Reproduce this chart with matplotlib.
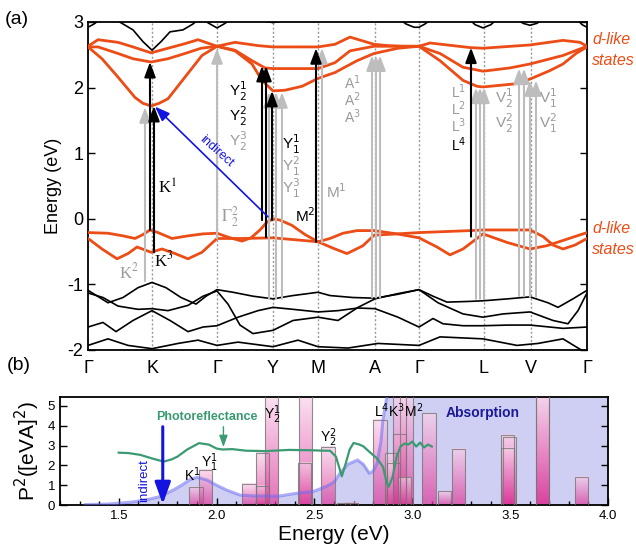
import numpy as np
import matplotlib
matplotlib.use('Agg')
import matplotlib.pyplot as plt
from matplotlib.colors import LinearSegmentedColormap
from matplotlib.patches import Rectangle
from matplotlib.ticker import MultipleLocator, FormatStrFormatter

plt.rcParams['font.family'] = ['Liberation Sans', 'DejaVu Sans']
plt.rcParams['mathtext.fontset'] = 'dejavusans'
plt.rcParams['axes.unicode_minus'] = False

# ---------------- panel (a): band structure ----------------
kpath_pos = [0, 64, 129, 185, 230, 287, 331, 396, 443, 499]
kpath_lbl = ['Γ', 'K', 'Γ', 'Y', 'M', 'A', 'Γ', 'L', 'V', 'Γ']

# d-like conduction bands (orange)
cb_top_k = [0, 10, 30, 45, 63, 80, 97, 110, 129, 147, 170, 185, 230, 247, 262, 286, 300, 315, 331, 342, 382, 395, 442, 475, 492, 499]
cb_top_e = [2.63, 2.73, 2.69, 2.62, 2.53, 2.60, 2.67, 2.73, 2.63, 2.69, 2.64, 2.62, 2.62, 2.66, 2.77, 2.66, 2.64, 2.63, 2.63, 2.68, 2.61, 2.60, 2.65, 2.72, 2.69, 2.63]
cb_mid_k = [0, 10, 30, 45, 63, 80, 97, 113, 129, 147, 164, 177, 185, 230, 247, 262, 286, 331, 352, 375, 395, 422, 442, 475, 499]
cb_mid_e = [2.62, 2.62, 2.52, 2.44, 2.39, 2.44, 2.52, 2.60, 2.63, 2.57, 2.41, 2.30, 2.29, 2.29, 2.38, 2.56, 2.63, 2.63, 2.52, 2.31, 2.25, 2.30, 2.36, 2.49, 2.63]
cb_low_k = [0, 14, 30, 47, 55, 63, 71, 80, 97, 114, 129, 147, 164, 174, 185, 197, 214, 230, 247, 269, 286, 310, 331, 352, 375, 389, 395, 429, 442, 462, 475, 488, 499]
cb_low_e = [2.62, 2.44, 2.16, 1.85, 1.76, 1.72, 1.76, 1.83, 2.16, 2.49, 2.63, 2.56, 2.36, 2.11, 1.95, 1.96, 2.02, 2.14, 2.23, 2.41, 2.52, 2.60, 2.63, 2.41, 2.11, 2.02, 2.01, 2.06, 2.13, 2.26, 2.36, 2.52, 2.62]

# d-like valence bands (orange)
vb_a_k = [0, 20, 35, 47, 55, 62, 70, 84, 100, 115, 129, 140, 154, 163, 172, 179, 185, 192, 204, 217, 230, 247, 259, 275, 286, 309, 331, 382, 395, 442, 455, 465, 475, 487, 499]
vb_a_e = [-0.21, -0.22, -0.26, -0.30, -0.24, -0.17, -0.21, -0.30, -0.26, -0.23, -0.22, -0.28, -0.34, -0.29, -0.17, -0.05, 0.0, -0.02, -0.10, -0.24, -0.35, -0.46, -0.53, -0.41, -0.25, -0.23, -0.21, -0.18, -0.17, -0.17, -0.27, -0.40, -0.46, -0.40, -0.30]
vb_b_k = [0, 14, 29, 40, 49, 63, 74, 87, 100, 114, 129, 154, 185, 230, 242, 255, 269, 286, 309, 331, 349, 362, 375, 395, 419, 442, 459, 475, 499]
vb_b_e = [-0.30, -0.46, -0.61, -0.53, -0.43, -0.51, -0.46, -0.53, -0.61, -0.51, -0.30, -0.30, -0.29, -0.35, -0.30, -0.22, -0.18, -0.18, -0.23, -0.29, -0.43, -0.55, -0.46, -0.23, -0.36, -0.46, -0.41, -0.33, -0.21]

# other bands (black)
tb_k = [0, 6, 14, 25, 35, 45, 55, 64, 73, 82, 95, 105, 112, 122, 129, 136, 145, 175, 185, 195, 310, 318, 326, 331, 337, 345, 380, 387, 395, 403, 410, 428, 435, 442, 449, 456, 488, 494, 499]
tb_e = [2.92, 2.97, 3.06, 3.06, 2.97, 2.88, 2.70, 2.57, 2.70, 2.85, 2.88, 2.97, 3.06, 2.97, 2.91, 2.97, 3.06, 3.02, 2.99, 3.02, 3.06, 2.97, 2.92, 2.92, 2.97, 3.06, 3.06, 2.96, 2.91, 2.96, 3.06, 3.06, 2.98, 2.95, 2.98, 3.06, 3.06, 2.96, 2.92]
lb1_k = [0, 20, 35, 50, 64, 78, 93, 108, 118, 129, 145, 165, 185, 205, 230, 242, 265, 287, 310, 331, 345, 359, 380, 395, 420, 442, 460, 470, 485, 499]
lb1_e = [-1.09, -1.28, -1.20, -1.05, -0.97, -1.05, -1.20, -1.30, -1.18, -1.08, -1.12, -1.18, -1.22, -1.17, -1.12, -1.17, -1.20, -1.21, -1.15, -1.08, -1.18, -1.27, -1.26, -1.25, -1.22, -1.19, -1.28, -1.35, -1.22, -1.09]
lb2_k = [0, 15, 30, 50, 64, 80, 100, 115, 129, 140, 152, 165, 185, 205, 230, 250, 270, 287, 310, 331, 350, 375, 395, 415, 442, 465, 480, 490, 499]
lb2_e = [-1.13, -1.20, -1.33, -1.38, -1.37, -1.40, -1.32, -1.18, -1.10, -1.30, -1.62, -1.75, -1.70, -1.55, -1.50, -1.55, -1.35, -1.22, -1.14, -1.08, -1.28, -1.45, -1.50, -1.45, -1.42, -1.55, -1.60, -1.40, -1.13]
lb3_k = [0, 15, 28, 45, 64, 82, 100, 115, 129, 150, 170, 185, 205, 230, 250, 270, 287, 310, 331, 345, 355, 375, 395, 420, 442, 475, 499]
lb3_e = [-1.65, -1.58, -1.72, -1.55, -1.40, -1.55, -1.72, -1.65, -1.63, -1.50, -1.40, -1.35, -1.38, -1.42, -1.40, -1.36, -1.37, -1.50, -1.65, -1.52, -1.60, -1.63, -1.63, -1.62, -1.62, -1.67, -1.65]
lb4_k = [0, 20, 40, 64, 90, 110, 129, 150, 185, 210, 230, 260, 290, 331, 352, 395, 429, 450, 475, 490, 499]
lb4_e = [-1.93, -1.83, -1.93, -1.98, -1.90, -1.85, -1.93, -1.88, -1.95, -1.85, -1.95, -1.97, -1.90, -1.93, -1.80, -1.83, -1.93, -1.90, -1.83, -1.97, -2.05]

# optical transitions: (k, E_start, E_end)
black_arrows = [(62, -0.17, 2.39), (66, -0.51, 1.72), (174, -0.02, 2.33), (178, -0.28, 2.33),
                (184, -0.02, 1.95), (228, -0.35, 2.60), (383, -0.27, 2.61)]
grey_arrows = [(57, -0.95, 1.70), (129, -0.30, 2.60), (181, -1.22, 1.93), (188, -1.22, 1.93),
               (194, -1.22, 1.93), (234, -0.36, 2.60), (284, -1.20, 2.49), (288, -1.20, 2.49),
               (292, -1.20, 2.49), (388, -1.22, 2.00), (392, -1.22, 2.00), (396, -1.22, 2.00),
               (431, -1.18, 2.29), (436, -1.18, 2.29), (442, -1.19, 2.11), (448, -1.19, 2.11)]
indirect_start = (180, 0.03)
indirect_end = (67, 1.71)

# transition labels: (text, k, E, colour, serif, fontsize)
a_labels = [
    ('K$^1$', 79, 0.47, 'k', True, 12), ('K$^2$', 41, -0.82, 'grey', True, 12), ('K$^3$', 76, -0.63, 'k', True, 12),
    ('$\\Gamma_2^2$', 142, 0.03, 'grey', True, 12),
    ('Y$_2^1$', 150, 1.94, 'k', False, 11), ('Y$_2^2$', 150, 1.56, 'k', False, 11), ('Y$_2^3$', 150, 1.18, 'grey', False, 11),
    ('Y$_1^1$', 203, 1.13, 'k', False, 11), ('Y$_1^2$', 203, 0.80, 'grey', False, 11), ('Y$_1^3$', 203, 0.47, 'grey', False, 11),
    ('M$^1$', 248, 0.41, 'grey', False, 11), ('M$^2$', 217, 0.05, 'k', False, 11),
    ('A$^1$', 264, 2.08, 'grey', False, 10), ('A$^2$', 264, 1.82, 'grey', False, 10), ('A$^3$', 264, 1.56, 'grey', False, 10),
    ('L$^1$', 371, 1.94, 'grey', False, 10), ('L$^2$', 371, 1.68, 'grey', False, 10), ('L$^3$', 371, 1.42, 'grey', False, 10),
    ('L$^4$', 371, 1.13, 'k', False, 10),
    ('V$_2^1$', 416, 1.84, 'grey', False, 11), ('V$_2^2$', 416, 1.46, 'grey', False, 11),
    ('V$_1^1$', 460, 1.84, 'grey', False, 11), ('V$_1^2$', 460, 1.46, 'grey', False, 11),
]

# ---------------- panel (b): spectra ----------------
pr_e = [1.50, 1.55, 1.61, 1.67, 1.73, 1.77, 1.80, 1.85, 1.91, 1.96, 2.00, 2.03, 2.08, 2.15, 2.25, 2.37, 2.49, 2.55, 2.58, 2.61, 2.64, 2.66, 2.68, 2.70, 2.73, 2.75, 2.78, 2.82, 2.85, 2.87, 2.88, 2.90, 2.92, 2.94, 2.96, 2.98, 3.00, 3.02, 3.04, 3.06, 3.08, 3.10]
pr_p = [2.64, 2.62, 2.53, 2.35, 2.19, 2.30, 2.44, 2.80, 3.12, 3.05, 2.85, 2.80, 2.82, 2.74, 2.72, 2.78, 2.76, 2.74, 2.74, 2.44, 1.45, 2.10, 2.80, 3.13, 3.05, 2.96, 2.69, 2.35, 1.93, 1.10, 0.93, 1.43, 2.44, 2.95, 3.10, 3.05, 3.20, 2.95, 3.15, 2.90, 3.05, 2.95]
abs_e = [1.33, 1.45, 1.57, 1.65, 1.71, 1.78, 1.83, 1.86, 1.90, 1.95, 2.00, 2.05, 2.12, 2.20, 2.32, 2.40, 2.49, 2.56, 2.60, 2.63, 2.67, 2.72, 2.75, 2.78, 2.80, 2.82, 2.84, 2.85, 2.87, 2.89, 4.00]
abs_p = [0.02, 0.05, 0.15, 0.28, 0.42, 0.76, 1.05, 1.26, 1.40, 1.26, 1.00, 0.76, 0.50, 0.45, 0.45, 0.58, 0.67, 0.93, 1.15, 1.60, 2.05, 2.27, 2.05, 1.60, 1.70, 2.10, 3.20, 4.30, 5.45, 8.0, 8.0]
bar_e = [1.895, 1.945, 2.165, 2.235, 2.235, 2.28, 2.455, 2.45, 2.57, 2.65, 2.69, 2.835, 2.895, 2.905, 2.935, 2.935, 2.97, 2.96, 3.085, 3.165, 3.235, 3.485, 3.495, 3.485, 3.665, 3.665, 3.865]
bar_h = [0.93, 1.77, 1.06, 2.64, 0.96, 6.0, 6.0, 2.12, 2.95, 0.10, 0.12, 4.30, 2.60, 2.14, 3.60, 6.0, 6.0, 1.40, 4.64, 0.70, 2.83, 3.54, 3.45, 2.88, 6.0, 6.0, 1.43]
BAR_W = 0.068
b_labels = [('K$^1$', 1.875, 1.55), ('Y$_1^1$', 1.965, 2.15), ('Y$_2^1$', 2.285, 4.55),
            ('Y$_2^2$', 2.57, 3.40), ('L$^4$K$^3$M$^2$', 2.93, 4.78)]

ORANGE = '#ec4d16'
GREY = '#bdbdbd'
GREYTXT = '#9a9a9a'
GREEN = '#3a9a72'
BLUE = '#1414e0'

fig = plt.figure(figsize=(6.36, 5.48), dpi=100)
axA = fig.add_axes([88/636, 1-350/548, 499/636, 328/548])
axB = fig.add_axes([60/636, 1-505/548, 548/636, 108/548])

# ---- draw (a)
for kp in kpath_pos[1:-1]:
    axA.axvline(kp, color='#999999', ls=(0, (1.5, 1.5)), lw=1.0, zorder=1)
for k, e in [(tb_k, tb_e), (lb1_k, lb1_e), (lb2_k, lb2_e), (lb3_k, lb3_e), (lb4_k, lb4_e)]:
    axA.plot(k, e, color='k', lw=1.2, zorder=2)
for k, e in [(cb_top_k, cb_top_e), (cb_mid_k, cb_mid_e), (cb_low_k, cb_low_e),
             (vb_a_k, vb_a_e), (vb_b_k, vb_b_e)]:
    axA.plot(k, e, color=ORANGE, lw=2.0, zorder=3)

def varrow(ax, k, e0, e1, col, z):
    ax.annotate('', xy=(k, e1), xytext=(k, e0),
                arrowprops=dict(arrowstyle='-|>,head_length=0.75,head_width=0.28', color=col,
                                lw=1.5, shrinkA=0, shrinkB=0, mutation_scale=12), zorder=z)

for k, e0, e1 in grey_arrows:
    varrow(axA, k, e0, e1, GREY, 4)
for k, e0, e1 in black_arrows:
    varrow(axA, k, e0, e1, 'k', 5)
axA.annotate('', xy=indirect_end, xytext=indirect_start,
             arrowprops=dict(arrowstyle='-|>,head_length=0.75,head_width=0.28', color=BLUE,
                             lw=1.2, shrinkA=0, shrinkB=0, mutation_scale=12), zorder=6)
axA.text(128, 1.02, 'indirect', color=BLUE, fontsize=9, rotation=-42,
         ha='center', va='center', rotation_mode='anchor', zorder=6)

for txt, k, e, col, serif, fs in a_labels:
    c = GREYTXT if col == 'grey' else 'k'
    if serif:
        axA.text(k, e, txt, color=c, fontsize=fs, ha='center', va='center',
                 family='Liberation Serif', math_fontfamily='stix', zorder=7)
    else:
        axA.text(k, e, txt, color=c, fontsize=fs, ha='center', va='center', zorder=7)

for txt, e in [('d-like', 2.74), ('states', 2.42), ('d-like', -0.15), ('states', -0.47)]:
    axA.text(504, e, txt, color=ORANGE, fontsize=11.5, style='italic', ha='left', va='center',
             clip_on=False)

axA.set_xlim(0, 499)
axA.set_ylim(-2, 3)
axA.set_xticks(kpath_pos)
axA.set_xticklabels(kpath_lbl, fontsize=13)
axA.tick_params(axis='x', length=0, pad=7)
axA.set_yticks([-2, -1, 0, 1, 2, 3])
axA.tick_params(axis='y', direction='in', right=True, length=5, width=1, labelsize=13)
axA.set_ylabel('Energy (eV)', fontsize=13, labelpad=4)
for s in axA.spines.values():
    s.set_linewidth(1.3)

# ---- draw (b)
axB.fill_between(abs_e, abs_p, color='#cfcff3', lw=0, zorder=1)
cmap = LinearSegmentedColormap.from_list('pk', ['#dc3598', '#f8d2ea'])
grad = np.linspace(0, 1, 100).reshape(-1, 1)
for e, h in zip(bar_e, bar_h):
    top = min(h, 5.45)
    x0 = e - BAR_W / 2
    axB.imshow(grad, extent=[x0, x0 + BAR_W, 0, top], origin='lower', cmap=cmap,
               alpha=0.7, aspect='auto', zorder=2, interpolation='bilinear')
    axB.add_patch(Rectangle((x0, 0), BAR_W, h, fill=False, ec='#777777', lw=0.8,
                            alpha=0.8, zorder=3))
axB.plot(abs_e, abs_p, color='#6a6af2', alpha=0.55, lw=2.2, zorder=4)
axB.plot(pr_e, pr_p, color=GREEN, lw=1.6, zorder=5)

axB.annotate('', xy=(2.035, 2.92), xytext=(2.035, 3.95),
             arrowprops=dict(arrowstyle='-|>,head_length=0.7,head_width=0.25', color=GREEN,
                             lw=1.0, shrinkA=0, shrinkB=0, mutation_scale=10), zorder=6)
axB.annotate('', xy=(1.725, 0.05), xytext=(1.725, 3.95),
             arrowprops=dict(arrowstyle='-|>,head_length=1.1,head_width=0.4', color=BLUE,
                             lw=2.2, shrinkA=0, shrinkB=0, mutation_scale=12), zorder=6)
axB.text(1.63, 1.25, 'indirect', color=BLUE, fontsize=9.5, rotation=90, ha='center', va='center', zorder=6)
axB.text(1.95, 4.45, 'Photoreflectance', color=GREEN, fontsize=9, fontweight='bold',
         ha='center', va='center', zorder=6)
axB.text(3.36, 4.62, 'Absorption', color='#1a1a99', fontsize=10, fontweight='bold',
         ha='center', va='center', zorder=6)
for txt, e, p in b_labels:
    axB.text(e, p, txt, fontsize=10, ha='center', va='center', zorder=6)

axB.set_xlim(1.2, 4.0)
axB.set_ylim(0, 5.45)
axB.xaxis.set_major_locator(MultipleLocator(0.5))
axB.xaxis.set_minor_locator(MultipleLocator(0.1))
axB.xaxis.set_major_formatter(FormatStrFormatter('%.1f'))
axB.set_yticks([0, 1, 2, 3, 4, 5])
axB.tick_params(axis='both', which='major', direction='in', length=5, width=1, labelsize=9.5)
axB.tick_params(axis='x', which='minor', direction='in', length=3, width=1)
axB.tick_params(axis='y', right=True)
axB.set_xlabel('Energy (eV)', fontsize=15, labelpad=2)
axB.set_ylabel('P$^2$([eVA]$^2$)', fontsize=15, labelpad=4)
for s in axB.spines.values():
    s.set_linewidth(1.3)

fig.text(5/636, 1-20/548, '(a)', fontsize=14, ha='left', va='center')
fig.text(7/636, 1-366/548, '(b)', fontsize=14, ha='left', va='center')

fig.savefig('out.png', dpi=100)
